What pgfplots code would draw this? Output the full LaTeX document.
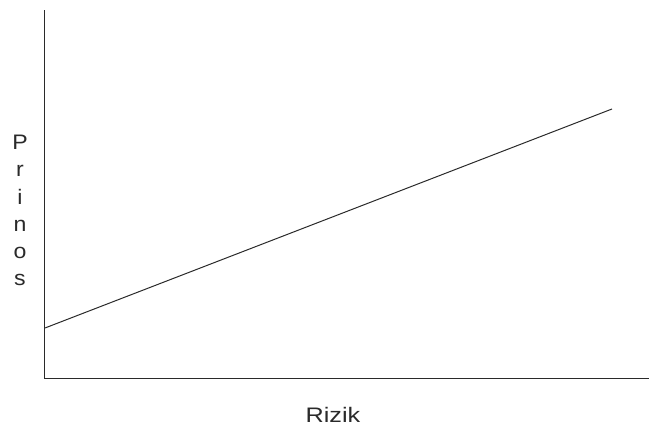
\documentclass[border=0pt]{standalone}
\usepackage{graphicx}
\usepackage{pgfplots}
\pgfplotsset{compat=1.18}
\usepackage{fontspec}
\setmainfont{Liberation Sans}
\definecolor{ink}{HTML}{2A2A2A}
\begin{document}
\begin{tikzpicture}[x=1pt,y=1pt]
\path[use as bounding box] (0,0) rectangle (649,430);
\begin{axis}[
  scale only axis,
  width=604pt, height=369pt,
  at={(45pt,51pt)}, anchor=south west,
  xmin=0, xmax=604, ymin=0, ymax=369,
  axis lines=left,
  axis line style={-, ink, line width=1pt},
  xtick=\empty, ytick=\empty,
  clip=false,
]
\addplot[ink, line width=1pt] coordinates {(0,51) (567,270)};
\end{axis}
\node[font=\fontsize{21}{24}\selectfont, text=ink, anchor=base, inner sep=0pt] at (333,7) {\scalebox{1.2}[1]{Rizik}};
\node[font=\fontsize{21}{27.2}\selectfont, text=ink, align=center, anchor=north, inner sep=0pt] at (20,295) {\scalebox{1.1}[1]{P}\\\scalebox{1.1}[1]{r}\\\scalebox{1.1}[1]{i}\\\scalebox{1.1}[1]{n}\\\scalebox{1.1}[1]{o}\\\scalebox{1.1}[1]{s}};
\end{tikzpicture}
\end{document}
